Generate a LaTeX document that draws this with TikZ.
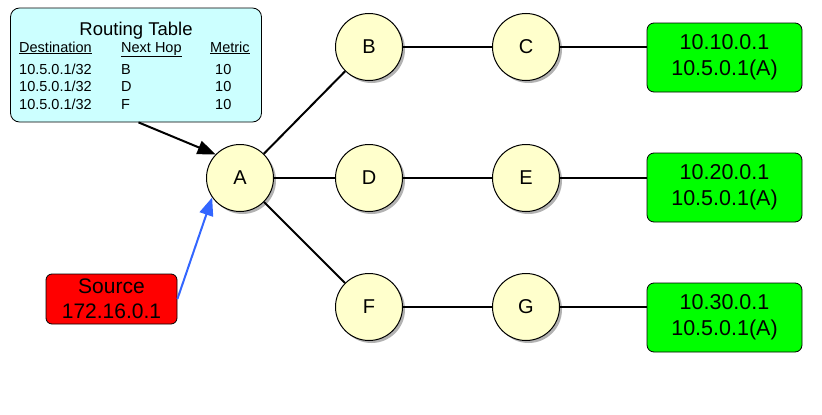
\documentclass[tikz,border=0pt]{standalone}
\usepackage{fontspec}
\setmainfont{Liberation Sans}
\usetikzlibrary{shadows,calc,arrows.meta}
\definecolor{nodefill}{HTML}{FFFFCC}
\definecolor{tablefill}{HTML}{CCFFFF}
\definecolor{hostgreen}{HTML}{00FF00}
\definecolor{srcred}{HTML}{FF0000}
\definecolor{arrowblue}{HTML}{3366FF}
\begin{document}
\begin{tikzpicture}[x=1pt,y=-1pt,
  router/.style={circle, draw=black, line width=1pt, fill=nodefill, minimum size=67pt, inner sep=0pt,
    font=\fontsize{20}{24}\selectfont,
    drop shadow={shadow xshift=2.5pt, shadow yshift=-2.5pt, fill=black, opacity=.3}},
  hostbox/.style={rectangle, rounded corners=7pt, draw=black, line width=0.8pt, fill=hostgreen,
    minimum width=155pt, minimum height=69pt, align=center, inner sep=0pt,
    font=\fontsize{21.5}{26}\selectfont},
  srcbox/.style={rectangle, rounded corners=6pt, draw=black, line width=0.8pt, fill=srcred,
    minimum width=131pt, minimum height=50pt, align=center, inner sep=0pt,
    font=\fontsize{21}{25}\selectfont},
  tblbox/.style={rectangle, rounded corners=9pt, draw=black, line width=0.8pt, fill=tablefill,
    minimum width=251pt, minimum height=114pt, inner sep=0pt},
  tbltext/.style={anchor=base west, inner sep=0pt, font=\fontsize{14.5}{17}\selectfont},
  link/.style={draw=black, line width=2pt},
  ptr/.style={line width=2pt, -{Triangle[length=18pt, width=14pt]}}
]
\useasboundingbox (0,0) rectangle (822,415);

% routing table
\node[tblbox] (tbl) at (136,65) {};
\node[anchor=base, inner sep=0pt, font=\fontsize{18.5}{22}\selectfont] (ttl) at (136,35) {Routing Table};
\node[tbltext] (h1) at (19,52) {\underline{Destination}};
\node[tbltext] (h2) at (121,52) {\underline{Next Hop}};
\node[tbltext] (h3) at (210,52) {\underline{Metric}};
\node[tbltext] (r1a) at (19,74) {10.5.0.1/32};
\node[tbltext] (r1b) at (121,74) {B};
\node[tbltext] (r1c) at (215,74) {10};
\node[tbltext] (r2a) at (19,91.5) {10.5.0.1/32};
\node[tbltext] (r2b) at (121,91.5) {D};
\node[tbltext] (r2c) at (215,91.5) {10};
\node[tbltext] (r3a) at (19,109) {10.5.0.1/32};
\node[tbltext] (r3b) at (121,109) {F};
\node[tbltext] (r3c) at (215,109) {10};

% routers
\node[router] (A) at (240,178) {A};
\node[router] (B) at (369,47) {B};
\node[router] (C) at (526,47) {C};
\node[router] (D) at (369,178) {D};
\node[router] (E) at (526,178) {E};
\node[router] (F) at (369,307) {F};
\node[router] (G) at (526,307) {G};

% hosts
\node[hostbox] (h10) at (724.5,57.5) {10.10.0.1\\10.5.0.1(A)};
\node[hostbox] (h20) at (724.5,187.5) {10.20.0.1\\10.5.0.1(A)};
\node[hostbox] (h30) at (724.5,317.5) {10.30.0.1\\10.5.0.1(A)};

% source
\node[srcbox] (src) at (111.5,299) {Source\\172.16.0.1};

% links
\draw[link] (A) -- (B);
\draw[link] (A) -- (D);
\draw[link] (A) -- (F);
\draw[link] (B) -- (C);
\draw[link] (D) -- (E);
\draw[link] (F) -- (G);
\draw[link] (C) -- (C -| h10.west);
\draw[link] (E) -- (E -| h20.west);
\draw[link] (G) -- (G -| h30.west);

% pointers
\draw[ptr, draw=black, fill=black] ($(tbl.south west)!0.51!(tbl.south east)$) -- (A.136);
\draw[ptr, draw=arrowblue, fill=arrowblue] (src.east) -- (A.215);
\end{tikzpicture}
\end{document}
